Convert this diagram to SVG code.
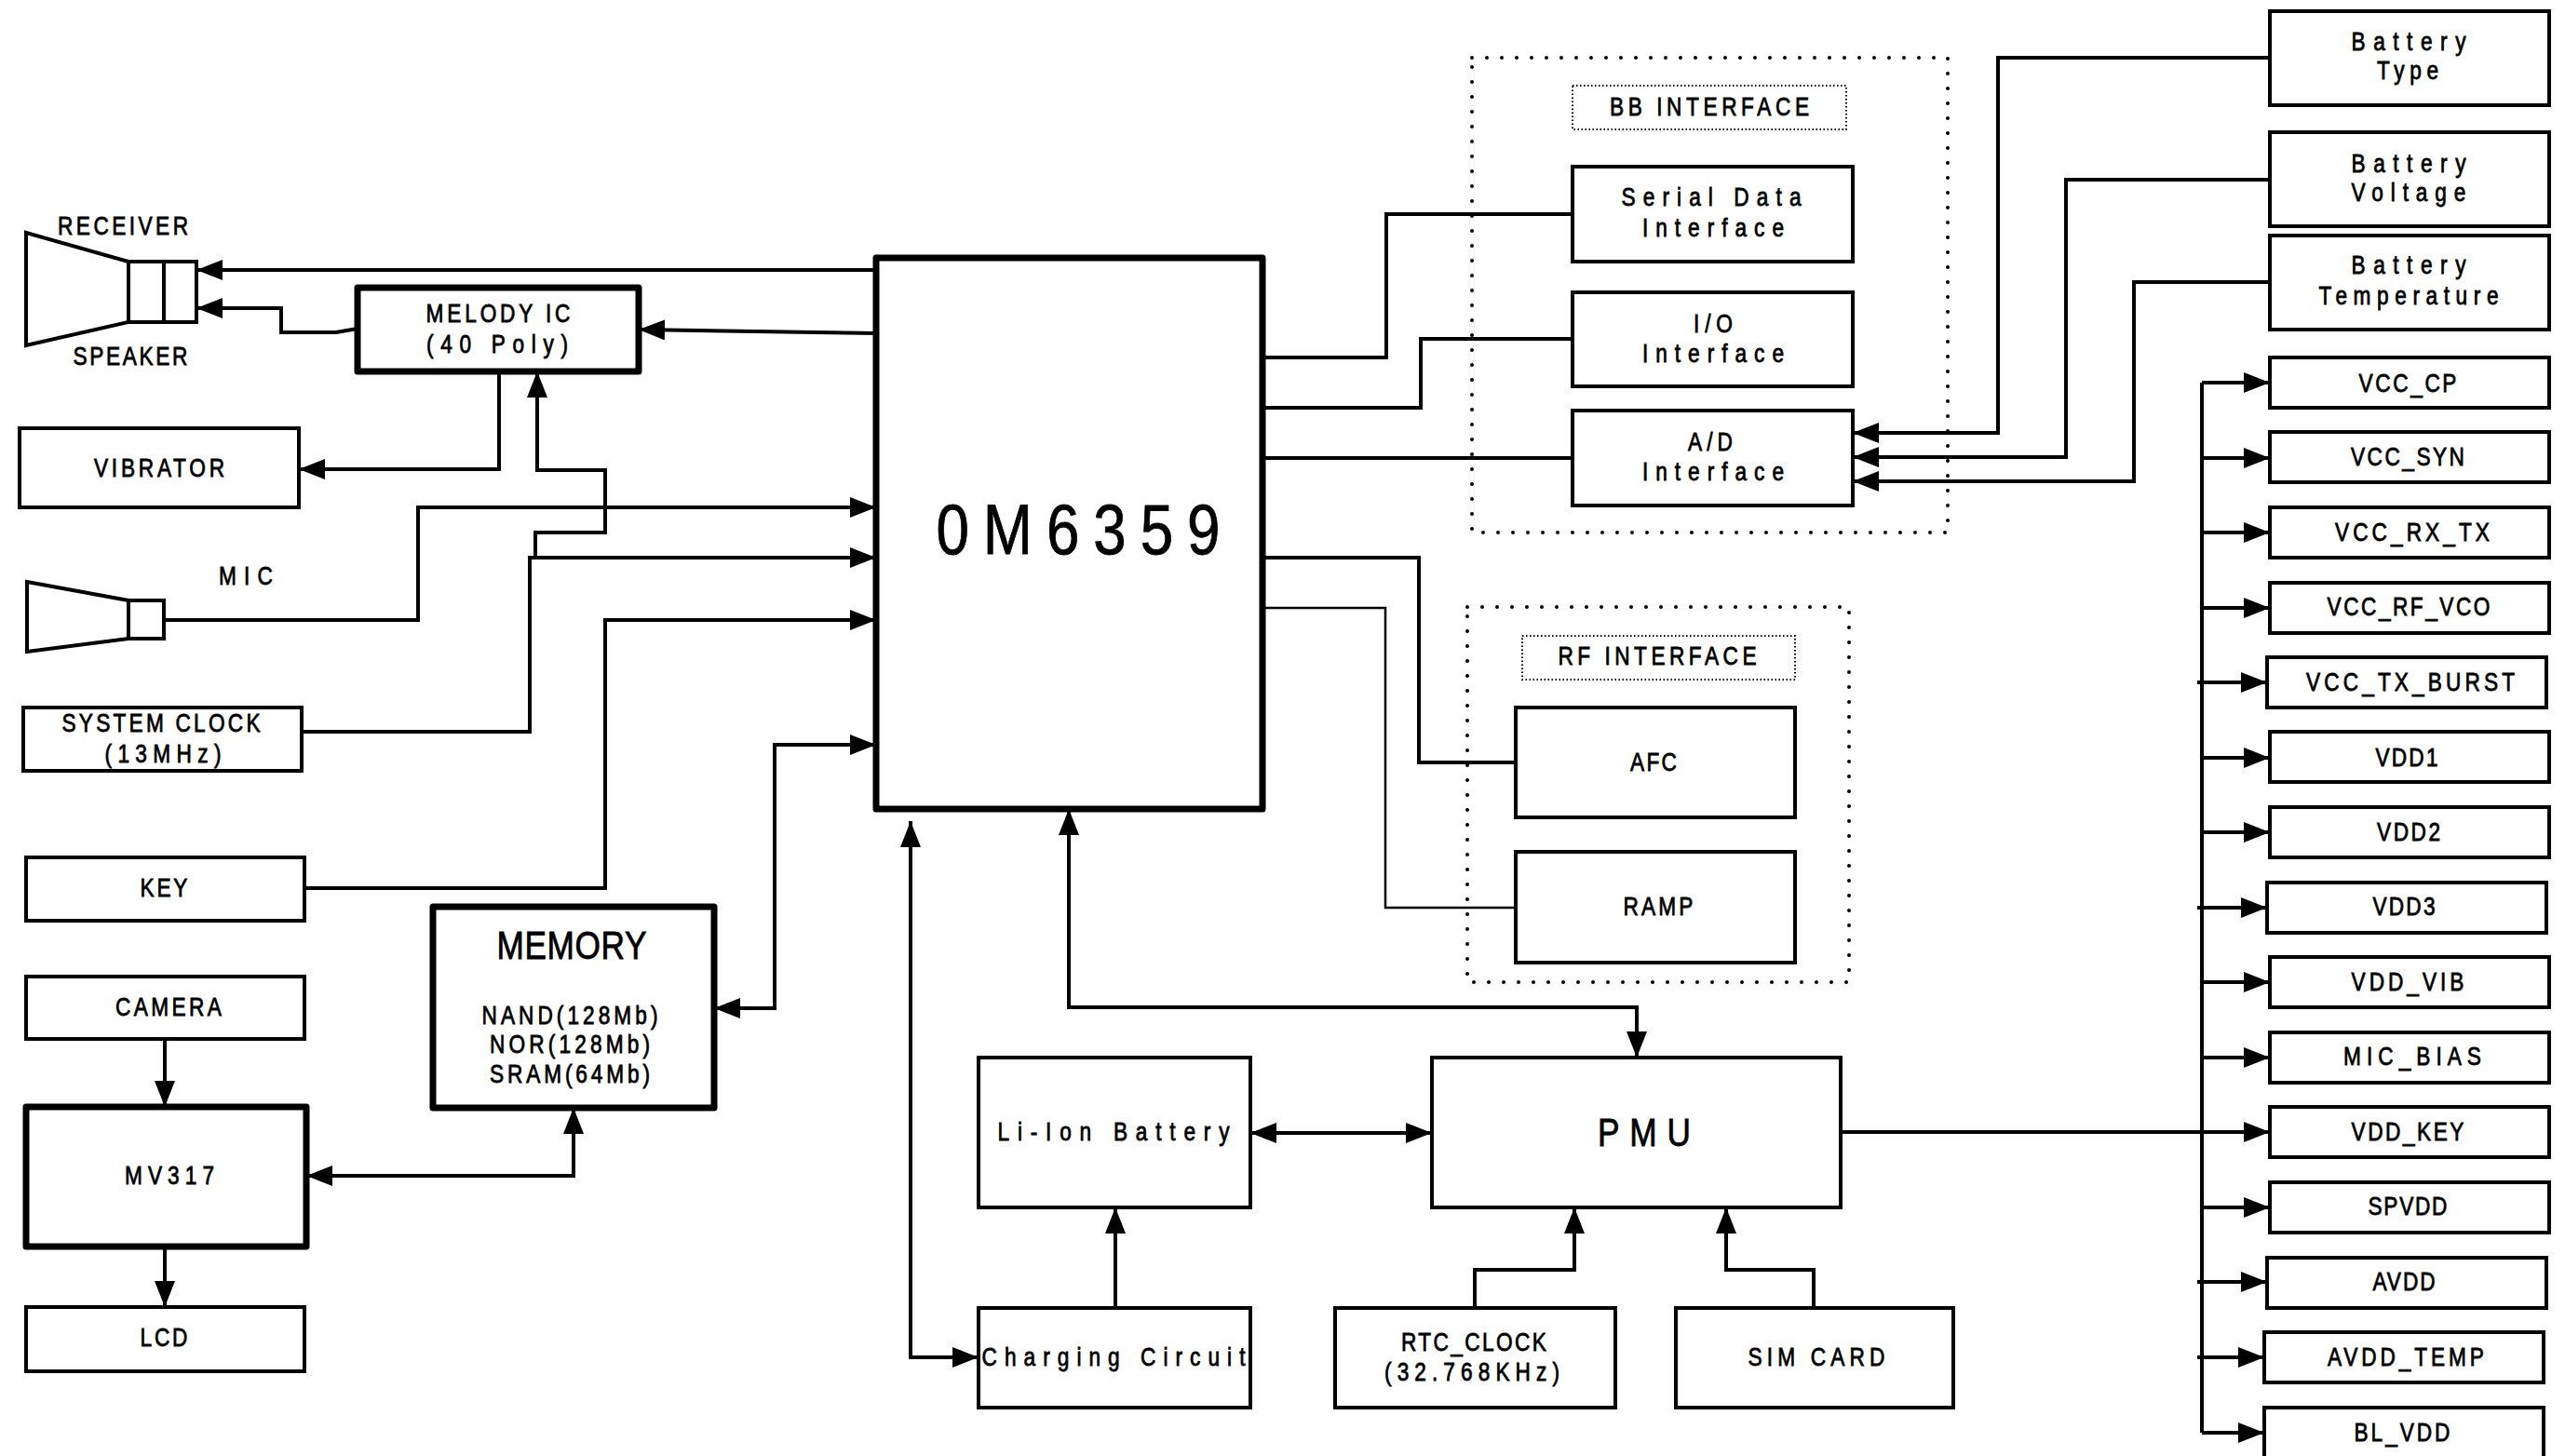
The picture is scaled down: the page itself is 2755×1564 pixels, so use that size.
<svg xmlns="http://www.w3.org/2000/svg" width="2755" height="1564" viewBox="0 0 2755 1564">
<style>
.b{fill:#fff;stroke:#000;stroke-width:4;stroke-linejoin:miter}
.k{fill:#fff;stroke:#000;stroke-width:7;stroke-linejoin:round}
.g{fill:none;stroke:#000;stroke-width:4;stroke-dasharray:0 16;stroke-linecap:round}
.l{fill:none;stroke:#000;stroke-width:2;stroke-dasharray:1.5 2.5}
.w{fill:none;stroke:#000;stroke-width:4}
.c path{fill:none;stroke:#000;stroke-width:4;stroke-linejoin:miter}
.c path.thin{stroke-width:2.5}
.a{marker-end:url(#ah)}
.d{marker-start:url(#ah);marker-end:url(#ah)}
text{font-family:"Liberation Sans",Arial,sans-serif;font-size:27px;text-anchor:middle;fill:#000;stroke:#000;stroke-width:0.8}
.big{font-size:42px}
.huge{font-size:76px}
</style>
<defs>
<marker id="ah" markerUnits="userSpaceOnUse" markerWidth="30" markerHeight="24" refX="28" refY="11" orient="auto-start-reverse">
<path d="M0,0 L28,11 L0,22 z" fill="#000"/>
</marker>
</defs>
<rect width="2755" height="1564" fill="#fff"/>

<g id="groups">
<rect class="g" x="1581" y="62" width="511" height="510"/>
<rect class="g" x="1576" y="652" width="410" height="403"/>
</g>

<g id="receiver">
<polygon class="w" points="28,250 138,281 138,346 28,371" fill="#fff"/>
<rect class="w" x="138" y="281" width="38" height="65" fill="#fff"/>
<rect class="w" x="176" y="281" width="35" height="65" fill="#fff"/>
<text transform="translate(132 252) scale(.84 1)" textLength="166.7" lengthAdjust="spacing">RECEIVER</text>
<text transform="translate(140 392) scale(.84 1)" textLength="146.4" lengthAdjust="spacing">SPEAKER</text>
</g>
<g id="melody"><rect class="k" x="384" y="309" width="302" height="90"/>
<text transform="translate(535 346) scale(.84 1)" textLength="184.5" lengthAdjust="spacing">MELODY IC</text>
<text transform="translate(534 379) scale(.84 1)" textLength="181" lengthAdjust="spacing">(40 Poly)</text></g>
<g id="vibrator"><rect class="b" x="21" y="460" width="300" height="85"/>
<text transform="translate(171 512) scale(.84 1)" textLength="166.7" lengthAdjust="spacing">VIBRATOR</text></g>
<g id="mic">
<polygon class="w" points="29,625 138,645 138,686 29,700" fill="#fff"/>
<rect class="w" x="138" y="645" width="38" height="41" fill="#fff"/>
<text transform="translate(264 628) scale(.84 1)" textLength="69" lengthAdjust="spacing">MIC</text></g>
<g id="sysclock"><rect class="b" x="25" y="760" width="299" height="68"/>
<text transform="translate(173 786) scale(.84 1)" textLength="253.6" lengthAdjust="spacing">SYSTEM CLOCK</text>
<text transform="translate(175 819) scale(.84 1)" textLength="148.8" lengthAdjust="spacing">(13MHz)</text></g>
<g id="key"><rect class="b" x="28" y="921" width="299" height="68"/>
<text transform="translate(176 963) scale(.84 1)" textLength="60.7" lengthAdjust="spacing">KEY</text></g>
<g id="memory"><rect class="k" x="465" y="974" width="302" height="216"/>
<text class="big" transform="translate(614 1030) scale(.84 1)" textLength="191.7" lengthAdjust="spacing">MEMORY</text>
<text transform="translate(612 1100) scale(.84 1)" textLength="225" lengthAdjust="spacing">NAND(128Mb)</text>
<text transform="translate(612 1131) scale(.84 1)" textLength="204.8" lengthAdjust="spacing">NOR(128Mb)</text>
<text transform="translate(612 1163) scale(.84 1)" textLength="204.8" lengthAdjust="spacing">SRAM(64Mb)</text></g>
<g id="camera"><rect class="b" x="28" y="1049" width="299" height="67"/>
<text transform="translate(181 1091) scale(.84 1)" textLength="135.7" lengthAdjust="spacing">CAMERA</text></g>
<g id="mv317"><rect class="k" x="28" y="1189" width="301" height="150"/>
<text transform="translate(182 1272) scale(.84 1)" textLength="114.3" lengthAdjust="spacing">MV317</text></g>
<g id="lcd"><rect class="b" x="28" y="1404" width="299" height="69"/>
<text transform="translate(176 1446) scale(.84 1)" textLength="60.7" lengthAdjust="spacing">LCD</text></g>

<g id="om6359"><rect class="k" x="941" y="277" width="415" height="592"/>
<text class="huge" transform="translate(1158 595) scale(.84 1)" textLength="363.1" lengthAdjust="spacing">0M6359</text></g>

<g id="bb-label"><rect class="l" x="1689" y="92" width="294" height="47"/>
<text transform="translate(1836 124) scale(.84 1)" textLength="254.8" lengthAdjust="spacing">BB INTERFACE</text></g>
<g id="serial"><rect class="b" x="1689" y="179" width="301" height="102"/>
<text transform="translate(1838 221) scale(.84 1)" textLength="229.8" lengthAdjust="spacing">Serial Data</text>
<text transform="translate(1840 254) scale(.84 1)" textLength="181" lengthAdjust="spacing">Interface</text></g>
<g id="io"><rect class="b" x="1689" y="314" width="301" height="101"/>
<text transform="translate(1840 357) scale(.84 1)" textLength="50" lengthAdjust="spacing">I/O</text>
<text transform="translate(1840 389) scale(.84 1)" textLength="181" lengthAdjust="spacing">Interface</text></g>
<g id="ad"><rect class="b" x="1689" y="441" width="301" height="102"/>
<text transform="translate(1837 484) scale(.84 1)" textLength="57.1" lengthAdjust="spacing">A/D</text>
<text transform="translate(1840 516) scale(.84 1)" textLength="181" lengthAdjust="spacing">Interface</text></g>

<g id="rf-label"><rect class="l" x="1635" y="683" width="293" height="47"/>
<text transform="translate(1780 714) scale(.84 1)" textLength="253.6" lengthAdjust="spacing">RF INTERFACE</text></g>
<g id="afc"><rect class="b" x="1628" y="760" width="300" height="118"/>
<text transform="translate(1776 828) scale(.84 1)" textLength="59.5" lengthAdjust="spacing">AFC</text></g>
<g id="ramp"><rect class="b" x="1628" y="915" width="300" height="119"/>
<text transform="translate(1781 983) scale(.84 1)" textLength="89.3" lengthAdjust="spacing">RAMP</text></g>

<g id="bat-type"><rect class="b" x="2438" y="12" width="300" height="101"/>
<text transform="translate(2587 54) scale(.84 1)" textLength="146.4" lengthAdjust="spacing">Battery</text>
<text transform="translate(2586 85) scale(.84 1)" textLength="78.6" lengthAdjust="spacing">Type</text></g>
<g id="bat-volt"><rect class="b" x="2438" y="142" width="300" height="101"/>
<text transform="translate(2587 185) scale(.84 1)" textLength="146.4" lengthAdjust="spacing">Battery</text>
<text transform="translate(2587 216) scale(.84 1)" textLength="146.4" lengthAdjust="spacing">Voltage</text></g>
<g id="bat-temp"><rect class="b" x="2438" y="253" width="300" height="101"/>
<text transform="translate(2587 294) scale(.84 1)" textLength="146.4" lengthAdjust="spacing">Battery</text>
<text transform="translate(2587 327) scale(.84 1)" textLength="229.8" lengthAdjust="spacing">Temperature</text></g>

<g id="vcc_cp"><rect class="b" x="2438" y="384" width="300" height="54"/><text transform="translate(2586 421) scale(.84 1)" textLength="125" lengthAdjust="spacing">VCC_CP</text></g>
<g id="vcc_syn"><rect class="b" x="2438" y="464" width="300" height="54"/><text transform="translate(2586 500) scale(.84 1)" textLength="145.2" lengthAdjust="spacing">VCC_SYN</text></g>
<g id="vcc_rx_tx"><rect class="b" x="2438" y="545" width="300" height="54"/><text transform="translate(2591 581) scale(.84 1)" textLength="197.6" lengthAdjust="spacing">VCC_RX_TX</text></g>
<g id="vcc_rf_vco"><rect class="b" x="2438" y="626" width="300" height="54"/><text transform="translate(2587 661) scale(.84 1)" textLength="208.3" lengthAdjust="spacing">VCC_RF_VCO</text></g>
<g id="vcc_tx_burst"><rect class="b" x="2435" y="706" width="300" height="54"/><text transform="translate(2589 742) scale(.84 1)" textLength="266.7" lengthAdjust="spacing">VCC_TX_BURST</text></g>
<g id="vdd1"><rect class="b" x="2438" y="786" width="300" height="54"/><text transform="translate(2585 823) scale(.84 1)" textLength="79.8" lengthAdjust="spacing">VDD1</text></g>
<g id="vdd2"><rect class="b" x="2438" y="867" width="300" height="54"/><text transform="translate(2587 903) scale(.84 1)" textLength="81" lengthAdjust="spacing">VDD2</text></g>
<g id="vdd3"><rect class="b" x="2435" y="948" width="300" height="54"/><text transform="translate(2582 983) scale(.84 1)" textLength="79.8" lengthAdjust="spacing">VDD3</text></g>
<g id="vdd_vib"><rect class="b" x="2438" y="1028" width="300" height="54"/><text transform="translate(2586 1064) scale(.84 1)" textLength="144" lengthAdjust="spacing">VDD_VIB</text></g>
<g id="mic_bias"><rect class="b" x="2438" y="1109" width="300" height="54"/><text transform="translate(2591 1144) scale(.84 1)" textLength="176.2" lengthAdjust="spacing">MIC_BIAS</text></g>
<g id="vdd_key"><rect class="b" x="2438" y="1189" width="300" height="54"/><text transform="translate(2586 1225) scale(.84 1)" textLength="144" lengthAdjust="spacing">VDD_KEY</text></g>
<g id="spvdd"><rect class="b" x="2438" y="1270" width="300" height="54"/><text transform="translate(2586 1305) scale(.84 1)" textLength="101.2" lengthAdjust="spacing">SPVDD</text></g>
<g id="avdd"><rect class="b" x="2435" y="1351" width="300" height="54"/><text transform="translate(2582 1386) scale(.84 1)" textLength="79.8" lengthAdjust="spacing">AVDD</text></g>
<g id="avdd_temp"><rect class="b" x="2432" y="1431" width="300" height="54"/><text transform="translate(2584 1467) scale(.84 1)" textLength="200" lengthAdjust="spacing">AVDD_TEMP</text></g>
<g id="bl_vdd"><rect class="b" x="2432" y="1512" width="300" height="54"/><text transform="translate(2580 1548) scale(.84 1)" textLength="122.6" lengthAdjust="spacing">BL_VDD</text></g>

<g id="li-ion"><rect class="b" x="1051" y="1136" width="292" height="161"/>
<text transform="translate(1196 1225) scale(.84 1)" textLength="296.4" lengthAdjust="spacing">Li-Ion Battery</text></g>
<g id="pmu"><rect class="b" x="1538" y="1136" width="439" height="161"/>
<text class="big" transform="translate(1766 1231) scale(.84 1)" textLength="119" lengthAdjust="spacing">PMU</text></g>
<g id="charging"><rect class="b" x="1051" y="1405" width="292" height="107"/>
<text transform="translate(1196 1467) scale(.84 1)" textLength="336.9" lengthAdjust="spacing">Charging Circuit</text></g>
<g id="rtc"><rect class="b" x="1434" y="1405" width="301" height="107"/>
<text transform="translate(1583 1451) scale(.84 1)" textLength="185.7" lengthAdjust="spacing">RTC_CLOCK</text>
<text transform="translate(1581 1483) scale(.84 1)" textLength="223.8" lengthAdjust="spacing">(32.768KHz)</text></g>
<g id="sim"><rect class="b" x="1800" y="1405" width="298" height="107"/>
<text transform="translate(1951 1467) scale(.84 1)" textLength="175" lengthAdjust="spacing">SIM CARD</text></g>

<g id="connectors" class="c">
<path class="a" d="M941,290 H211"/>
<path class="a" d="M384,353 L361,357 H302 V331 H211"/>
<path class="a" d="M941,358 L686,354"/>
<path class="a" d="M536,399 V504 H321"/>
<path class="a" d="M324,786 H569 V599 H941"/>
<path class="a" d="M575,599 V572 H650 V505 H577 V399"/>
<path class="a" d="M176,666 H449 V545 H941"/>
<path class="a" d="M327,954 H650 V666 H941"/>
<path class="d" d="M767,1083 H832 V800 H941"/>
<path class="d" d="M329,1263 H616 V1190"/>
<path class="a" d="M177,1116 V1189"/>
<path class="a" d="M177,1339 V1404"/>
<path d="M1356,384 H1489 V230 H1689"/>
<path d="M1356,438 H1526 V364 H1689"/>
<path d="M1356,492 H1689"/>
<path d="M1356,599 H1524 V819 H1628"/>
<path class="thin" d="M1356,653 H1488 V975 H1628"/>
<path class="a" d="M2438,62 H2146 V465 H1990"/>
<path class="a" d="M2438,193 H2219 V491 H1990"/>
<path class="a" d="M2438,303 H2292 V517 H1990"/>
<path class="d" d="M978,882 V1458 H1051"/>
<path class="d" d="M1148,869 V1082 H1758 V1136"/>
<path class="d" d="M1343,1217 H1538"/>
<path class="a" d="M1198,1405 V1297"/>
<path class="a" d="M1584,1405 V1364 H1691 V1297"/>
<path class="a" d="M1948,1405 V1364 H1854 V1297"/>
<path class="a" d="M1977,1216 H2438"/>
<path d="M2365,411 V1539"/>
<path class="a" d="M2365,411 H2438"/>
<path class="a" d="M2365,492 H2438"/>
<path class="a" d="M2365,572 H2438"/>
<path class="a" d="M2365,653 H2438"/>
<path class="a" d="M2360,733 H2435"/>
<path class="a" d="M2365,814 H2438"/>
<path class="a" d="M2365,894 H2438"/>
<path class="a" d="M2360,975 H2435"/>
<path class="a" d="M2365,1055 H2438"/>
<path class="a" d="M2365,1136 H2438"/>
<path class="a" d="M2365,1297 H2438"/>
<path class="a" d="M2360,1377 H2435"/>
<path class="a" d="M2360,1458 H2432"/>
<path class="a" d="M2365,1539 H2432"/>
</g>
</svg>
